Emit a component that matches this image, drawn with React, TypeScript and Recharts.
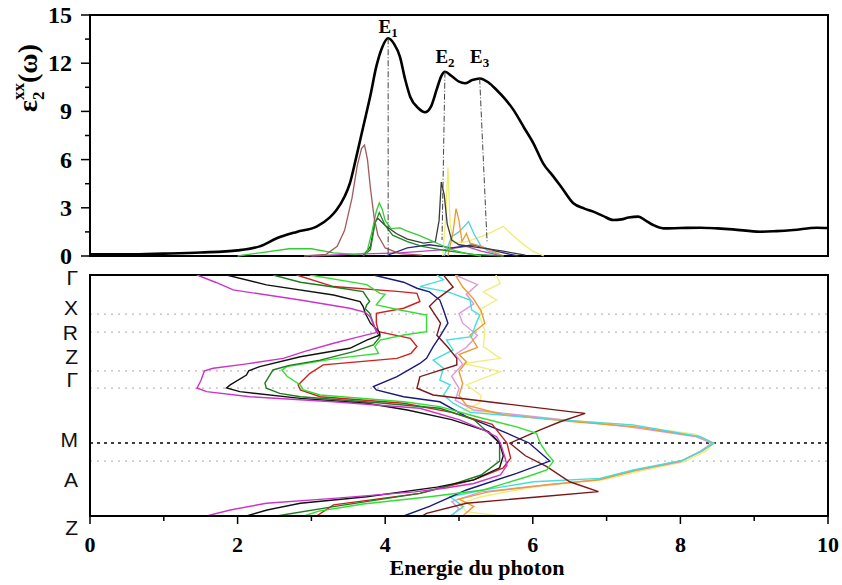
import React from 'react'
import { LineChart, Line, XAxis, YAxis, ReferenceLine, ReferenceArea, ReferenceDot, Label } from 'recharts'

const SERIF = '"Liberation Serif", "Times New Roman", serif'
const SANS = '"Liberation Sans", Arial, sans-serif'

// eps2 xx total, [energy (eV), value]
const eps2Total = [
    [0, 0.1], [0.5, 0.1], [1.0, 0.15], [1.5, 0.22], [2.0, 0.35], [2.3, 0.6], [2.53, 1.1], [2.8, 1.5],
    [3.07, 1.83], [3.25, 2.4], [3.34, 2.86], [3.45, 3.7], [3.52, 4.5], [3.6, 6.0], [3.7, 8.0], [3.8, 10.0],
    [3.88, 11.8], [3.96, 13.0], [4.04, 13.55], [4.12, 13.2], [4.2, 12.4], [4.27, 11.0], [4.34, 9.9],
    [4.45, 9.2], [4.54, 8.95], [4.62, 9.3], [4.7, 10.4], [4.76, 11.2], [4.81, 11.47], [4.9, 11.2],
    [5.0, 10.85], [5.08, 10.75], [5.18, 10.95], [5.28, 11.05], [5.4, 10.8], [5.51, 10.33], [5.62, 9.8],
    [5.74, 9.08], [5.88, 8.0], [6.01, 7.0], [6.14, 5.77], [6.28, 4.94], [6.4, 4.2], [6.55, 3.28],
    [6.7, 2.95], [6.82, 2.76], [6.95, 2.5], [7.09, 2.24], [7.2, 2.28], [7.3, 2.4], [7.43, 2.45],
    [7.53, 2.2], [7.63, 1.93], [7.77, 1.72], [8.0, 1.74], [8.27, 1.76], [8.5, 1.72], [8.71, 1.66],
    [9.08, 1.51], [9.3, 1.55], [9.53, 1.62], [9.85, 1.76], [10, 1.74],
]

// band-pair contributions to eps2
const pairBrown = [[2.9, 0], [3.2, 0.1], [3.35, 0.6], [3.45, 1.6], [3.55, 3.6], [3.62, 5.6], [3.68, 6.7], [3.72, 6.9], [3.76, 6.0], [3.8, 4.2], [3.85, 2.4], [3.9, 1.3], [4.0, 0.5], [4.2, 0.15], [4.5, 0.05]]
const pairGreen = [[2.0, 0], [2.3, 0.2], [2.7, 0.45], [3.0, 0.45], [3.3, 0.2], [3.6, 0.1], [3.75, 0.2], [3.82, 1.5], [3.88, 2.8], [3.92, 3.3], [3.96, 2.9], [4.0, 2.2], [4.08, 1.7], [4.2, 1.75], [4.3, 1.55], [4.45, 1.3], [4.6, 1.0], [4.75, 0.7], [4.9, 0.4], [5.1, 0.15], [5.3, 0]]
const pairDarkGreen = [[3.7, 0], [3.8, 0.4], [3.86, 2.0], [3.92, 2.7], [4.0, 1.9], [4.1, 1.3], [4.3, 0.9], [4.5, 0.6], [4.8, 0.35], [5.2, 0.1], [5.6, 0]]
const pairGray = [[3.7, 0], [3.8, 0.6], [3.86, 2.1], [3.9, 2.35], [4.0, 1.9], [4.15, 1.4], [4.3, 1.05], [4.52, 0.8], [4.68, 0.9], [4.73, 2.2], [4.76, 4.6], [4.8, 3.8], [4.84, 2.0], [4.9, 1.0], [5.0, 0.7], [5.3, 0.5], [5.6, 0.3], [5.9, 0.05]]
const pairYellow = [[4.78, 0], [4.82, 2.5], [4.85, 5.5], [4.88, 2.0], [4.92, 0.8], [5.1, 0.9], [5.3, 1.2], [5.45, 1.5], [5.6, 1.85], [5.7, 1.4], [5.85, 0.8], [6.0, 0.3], [6.15, 0]]
const pairOrange = [[4.85, 0], [4.92, 1.5], [4.96, 2.95], [5.0, 2.2], [5.04, 0.9], [5.1, 1.4], [5.15, 0.8], [5.3, 0.6], [5.45, 0.3], [5.6, 0]]
const pairCyan = [[4.8, 0], [4.9, 1.2], [5.0, 1.5], [5.13, 2.14], [5.2, 1.4], [5.3, 0.6], [5.4, 0.3], [5.6, 0]]
const pairMagenta = [[3.0, 0], [3.5, 0.1], [4.2, 0.2], [4.8, 0.4], [5.1, 0.6], [5.3, 0.3], [5.6, 0]]
const pairNavy = [[4.0, 0], [4.3, 0.5], [4.6, 0.7], [4.9, 0.5], [5.2, 0.7], [5.5, 0.3], [5.8, 0]]

// E1..E3 critical points: peak top and foot of the marker line
const peakNames = ['1', '2', '3']
const peakTopE = [4.04, 4.81, 5.28]
const peakTopV = [13.55, 11.47, 11.05]
const peakFootE = [4.04, 4.77, 5.38]
const peakFootV = [0, 1.0, 0.9]

// k path
const kPoints = [0, 0.162, 0.237, 0.398, 0.469, 0.697, 0.772, 1]
const kLabels = ['Γ', 'X', 'R', 'Z', 'Γ', 'M', 'A', 'Z']

// transition energies along the k path, [k, energy (eV)]
const bandMagenta = [[0, 1.45], [0.03, 1.7], [0.062, 1.94], [0.104, 2.85], [0.138, 3.52], [0.155, 3.73], [0.175, 3.8], [0.221, 3.86], [0.237, 3.9], [0.26, 3.6], [0.283, 3.3], [0.318, 2.9], [0.346, 2.62], [0.37, 2.1], [0.387, 1.67], [0.398, 1.55], [0.44, 1.5], [0.469, 1.45], [0.484, 1.58], [0.505, 2.17], [0.526, 3.3], [0.553, 4.47], [0.6, 5.0], [0.643, 5.33], [0.671, 5.51], [0.697, 5.56], [0.754, 5.62], [0.79, 5.65], [0.83, 5.56], [0.865, 5.2], [0.885, 4.8], [0.9, 4.4], [0.927, 3.3], [0.947, 2.39], [0.975, 1.9], [1, 1.58]]
const bandBlack = [[0, 1.85], [0.041, 2.39], [0.083, 3.3], [0.11, 3.66], [0.13, 3.7], [0.159, 3.73], [0.2, 3.8], [0.237, 3.92], [0.249, 3.93], [0.27, 3.75], [0.304, 3.52], [0.339, 2.85], [0.38, 2.3], [0.398, 2.15], [0.415, 2.12], [0.456, 1.9], [0.469, 1.85], [0.484, 2.03], [0.512, 2.85], [0.532, 3.75], [0.56, 4.3], [0.6, 4.9], [0.65, 5.4], [0.697, 5.55], [0.75, 5.6], [0.8, 5.55], [0.85, 5.2], [0.88, 4.7], [0.92, 3.75], [0.947, 2.85], [0.975, 2.4], [1, 2.12]]
const bandDarkGreen = [[0, 2.48], [0.03, 2.85], [0.05, 3.3], [0.069, 3.7], [0.11, 3.79], [0.124, 3.75], [0.14, 3.73], [0.159, 3.79], [0.235, 3.88], [0.256, 3.93], [0.29, 3.84], [0.318, 3.57], [0.353, 3.12], [0.375, 2.7], [0.394, 2.48], [0.449, 2.37], [0.47, 2.39], [0.491, 2.57], [0.505, 2.85], [0.53, 3.9], [0.553, 4.74], [0.6, 5.2], [0.697, 5.55], [0.772, 5.55], [0.83, 5.3], [0.87, 4.9], [0.906, 4.47], [0.961, 3.3], [1, 2.53]]
const bandGreen = [[0, 2.98], [0.04, 3.75], [0.076, 3.93], [0.08, 4.0], [0.104, 3.93], [0.124, 3.88], [0.145, 4.2], [0.166, 4.56], [0.235, 4.56], [0.249, 4.25], [0.27, 3.93], [0.297, 3.86], [0.325, 3.91], [0.346, 3.34], [0.38, 2.67], [0.394, 2.6], [0.42, 2.67], [0.456, 2.85], [0.477, 2.89], [0.498, 3.12], [0.526, 4.25], [0.546, 4.74], [0.588, 5.24], [0.63, 5.78], [0.657, 6.05], [0.698, 6.1], [0.74, 6.19], [0.772, 6.28], [0.809, 6.19], [0.837, 5.92], [0.892, 5.33], [0.92, 4.6], [0.95, 3.7], [0.98, 3.1], [1, 2.9]]
const bandRed = [[0, 2.8], [0.048, 3.3], [0.069, 4.2], [0.076, 4.43], [0.11, 4.47], [0.138, 4.25], [0.159, 3.88], [0.2, 3.88], [0.235, 3.91], [0.263, 4.34], [0.297, 4.43], [0.325, 4.35], [0.346, 4.16], [0.373, 3.16], [0.408, 2.98], [0.456, 2.82], [0.477, 2.85], [0.505, 3.12], [0.532, 4.25], [0.57, 4.9], [0.62, 5.45], [0.697, 5.65], [0.76, 5.7], [0.8, 5.6], [0.85, 5.2], [0.906, 4.47], [0.954, 3.3], [1, 3.07]]
const bandNavy = [[0, 3.84], [0.03, 4.25], [0.055, 4.43], [0.07, 4.6], [0.104, 4.74], [0.145, 4.79], [0.2, 4.85], [0.256, 4.74], [0.297, 4.65], [0.346, 4.56], [0.367, 4.47], [0.422, 4.16], [0.463, 3.84], [0.477, 3.88], [0.505, 4.25], [0.526, 4.74], [0.588, 5.1], [0.65, 5.6], [0.697, 5.95], [0.772, 6.23], [0.823, 5.78], [0.892, 5.1], [0.934, 4.79], [0.96, 4.6], [1, 4.25]]
const bandMaroon = [[0, 4.79], [0.05, 4.92], [0.1, 4.7], [0.13, 4.6], [0.2, 4.75], [0.25, 4.7], [0.3, 4.85], [0.346, 4.97], [0.373, 4.97], [0.422, 4.47], [0.47, 4.43], [0.498, 4.65], [0.532, 5.56], [0.567, 6.5], [0.574, 6.71], [0.609, 6.37], [0.643, 6.1], [0.698, 5.69], [0.75, 5.9], [0.795, 6.19], [0.858, 6.5], [0.899, 6.89], [0.92, 6.1], [0.947, 5.1], [0.989, 4.56], [1, 4.5]]
const bandCyan = [[0, 4.7], [0.02, 4.79], [0.048, 4.47], [0.07, 4.85], [0.104, 5.15], [0.145, 5.17], [0.166, 5.28], [0.21, 5.22], [0.256, 5.17], [0.27, 4.83], [0.311, 4.92], [0.353, 4.65], [0.387, 4.79], [0.436, 4.74], [0.456, 4.88], [0.498, 4.79], [0.532, 4.92], [0.57, 5.15], [0.6, 6.3], [0.622, 7.36], [0.671, 8.27], [0.698, 8.45], [0.733, 8.27], [0.768, 8.04], [0.809, 7.36], [0.844, 6.91], [0.858, 6.01], [0.892, 5.33], [0.92, 4.88], [0.961, 5.06], [1, 4.88]]
const bandOrange = [[0, 4.95], [0.05, 5.05], [0.1, 5.2], [0.15, 5.3], [0.2, 5.35], [0.25, 5.15], [0.3, 5.25], [0.33, 5.0], [0.36, 5.1], [0.4, 5.0], [0.45, 5.05], [0.5, 5.0], [0.54, 5.1], [0.58, 5.6], [0.61, 6.6], [0.63, 7.4], [0.67, 8.25], [0.698, 8.45], [0.73, 8.3], [0.772, 8.0], [0.81, 7.4], [0.85, 6.9], [0.87, 6.2], [0.9, 5.4], [0.93, 5.0], [0.96, 5.2], [1, 5.05]]
const bandPink = [[0, 4.95], [0.04, 5.25], [0.08, 5.1], [0.12, 5.2], [0.16, 5.0], [0.2, 5.05], [0.25, 5.25], [0.3, 5.1], [0.33, 4.95], [0.37, 5.05], [0.42, 4.9], [0.47, 5.0], [0.52, 4.95], [0.56, 5.2], [0.6, 6.4], [0.63, 7.3], [0.67, 8.2], [0.698, 8.42], [0.73, 8.28], [0.775, 8.0], [0.81, 7.4], [0.85, 6.85], [0.9, 5.3], [0.94, 4.9], [0.97, 5.0], [1, 4.9]]
const bandYellow = [[0, 5.5], [0.035, 5.56], [0.07, 5.33], [0.104, 5.51], [0.14, 5.3], [0.173, 5.28], [0.23, 5.35], [0.297, 5.33], [0.346, 5.56], [0.367, 5.06], [0.401, 5.56], [0.456, 5.1], [0.5, 5.3], [0.532, 5.28], [0.56, 5.06], [0.59, 6.0], [0.62, 7.2], [0.66, 8.2], [0.698, 8.45], [0.73, 8.35], [0.775, 8.05], [0.81, 7.5], [0.85, 6.95], [0.88, 6.0], [0.92, 5.3], [0.95, 5.0], [0.982, 5.1], [1, 5.56]]

const topTicks = [0, 1.5, 3, 4.5, 6, 7.5, 9, 10.5, 12, 13.5, 15]
const energyTicks = [0, 1, 2, 3, 4, 5, 6, 7, 8, 9, 10]
const kLabelShift = [2, -7, 0, -14, -9, -3, 18, 11]

const toSpectrum = (pts: number[][]) => pts.map(([e, v]) => ({ e, v }))
const toBand = (pts: number[][]) => pts.map(([k, e]) => ({ k, e }))

const pairs = [
    { pts: pairMagenta, color: '#c040c0' },
    { pts: pairNavy, color: '#2a2a8a' },
    { pts: pairYellow, color: '#eeee70' },
    { pts: pairCyan, color: '#55cfe0' },
    { pts: pairOrange, color: '#ee9930' },
    { pts: pairGray, color: '#3a3a3a' },
    { pts: pairDarkGreen, color: '#1e8a1e' },
    { pts: pairGreen, color: '#33cc33' },
    { pts: pairBrown, color: '#a05a5a' },
]

const bands = [
    { pts: bandYellow, color: '#f0ee80' },
    { pts: bandPink, color: '#dd99dd' },
    { pts: bandOrange, color: '#ee9933' },
    { pts: bandCyan, color: '#44dde0' },
    { pts: bandMaroon, color: '#7a1818' },
    { pts: bandNavy, color: '#1a1a7a' },
    { pts: bandRed, color: '#cc2222' },
    { pts: bandGreen, color: '#33dd33' },
    { pts: bandDarkGreen, color: '#1e7b1e' },
    { pts: bandBlack, color: '#111111' },
    { pts: bandMagenta, color: '#cc33cc' },
]

const TopTick = ({ x, y, payload }: any) => {
    const major = payload.value % 3 === 0
    return (
        <g>
            <line x1={x} x2={x - (major ? 9 : 5)} y1={y} y2={y} stroke="#000" strokeWidth={1.5} />
            {major && (
                <text x={x - 18} y={y} dy={8} textAnchor="end" fontFamily={SERIF} fontWeight="bold" fontSize={24} fill="#000">
                    {payload.value}
                </text>
            )}
        </g>
    )
}

const EnergyTick = ({ x, y, payload }: any) => {
    const major = payload.value % 2 === 0
    return (
        <g>
            <line x1={x} x2={x} y1={y} y2={y + (major ? 8 : 5)} stroke="#000" strokeWidth={1.5} />
            {major && (
                <text x={x} y={y + 36} textAnchor="middle" fontFamily={SERIF} fontWeight="bold" fontSize={22} fill="#000">
                    {payload.value}
                </text>
            )}
        </g>
    )
}

const KTick = ({ x, y, index }: any) => (
    <text x={x} y={y + kLabelShift[index]} dy={7.5} textAnchor="end" fontFamily={SANS} fontSize={21} fill="#111">
        {kLabels[index]}
    </text>
)

const Eps2Title = ({ viewBox }: any) => {
    const cx = viewBox.x + 37
    const cy = 78
    return (
        <text x={cx} y={cy} transform={`rotate(-90 ${cx} ${cy})`} textAnchor="middle" fontFamily={SERIF} fontWeight="bold" fontSize={28} fill="#000">
            <tspan>ε</tspan>
            <tspan fontSize={17} dy={7}>2</tspan>
            <tspan fontSize={17} dx={-8.5} dy={-20}>xx</tspan>
            <tspan dy={13}>(ω)</tspan>
        </text>
    )
}

const EnergyTitle = ({ viewBox }: any) => (
    <text x={viewBox.x + viewBox.width / 2 + 18} y={viewBox.y + 59} textAnchor="middle" fontFamily={SERIF} fontWeight="bold" fontSize={22} fill="#000">
        Energie du photon
    </text>
)

const peakLift = [5, 9, 15]

export default function App() {
    return (
        <div style={{ position: 'absolute', left: 0, top: 0, width: 842, height: 585, background: '#fff' }}>
            <div style={{ position: 'absolute', left: 0, top: 0 }}>
                <LineChart width={842} height={270} margin={{ top: 15, right: 14, bottom: 14, left: 0 }}>
                    <XAxis type="number" dataKey="e" domain={[0, 10]} hide allowDataOverflow />
                    <YAxis type="number" domain={[0, 15]} ticks={topTicks} width={90} tickSize={0} tickMargin={0}
                        tickLine={false} axisLine={{ stroke: '#000', strokeWidth: 2 }} tick={(p: any) => <TopTick {...p} />}
                        interval={0}>
                        <Label content={(p: any) => <Eps2Title {...p} />} />
                    </YAxis>
                    {pairs.map((c, i) => (
                        <Line key={i} data={toSpectrum(c.pts)} dataKey="v" type="linear" stroke={c.color}
                            strokeWidth={1.3} dot={false} activeDot={false} isAnimationActive={false} />
                    ))}
                    <Line data={toSpectrum(eps2Total)} dataKey="v" type="monotone" stroke="#000" strokeWidth={2.6}
                        dot={false} activeDot={false} isAnimationActive={false} />
                    {peakNames.map((n, i) => (
                        <ReferenceLine key={'l' + i} segment={[{ x: peakTopE[i], y: peakTopV[i] }, { x: peakFootE[i], y: peakFootV[i] }]}
                            stroke="#444" strokeWidth={1} strokeDasharray="6 2 1 2" />
                    ))}
                    {peakNames.map((n, i) => (
                        <ReferenceDot key={'d' + i} x={peakTopE[i]} y={peakTopV[i]} r={0}
                            shape={(p: any) => (
                                <text x={p.cx} y={p.cy - peakLift[i]} textAnchor="middle" fontFamily={SERIF} fontWeight="bold" fontSize={19} fill="#000">
                                    E<tspan fontSize={13} dy={4}>{n}</tspan>
                                </text>
                            )} />
                    ))}
                    <ReferenceArea x1={0} x2={10} y1={0} y2={15} fill="none" stroke="#000" strokeWidth={2} ifOverflow="visible" />
                </LineChart>
            </div>
            <div style={{ position: 'absolute', left: 0, top: 260 }}>
                <LineChart layout="vertical" width={842} height={325} margin={{ top: 15, right: 14, bottom: 0, left: 0 }}>
                    <XAxis type="number" domain={[0, 10]} ticks={energyTicks} height={69} tickSize={0} tickMargin={0}
                        tickLine={false} axisLine={{ stroke: '#000', strokeWidth: 2 }} tick={(p: any) => <EnergyTick {...p} />}
                        interval={0} allowDataOverflow>
                        <Label content={(p: any) => <EnergyTitle {...p} />} />
                    </XAxis>
                    <YAxis type="number" dataKey="k" domain={[0, 1]} ticks={kPoints} width={90} tickSize={0}
                        tickMargin={12} tickLine={false} axisLine={{ stroke: '#000', strokeWidth: 2 }} interval={0}
                        tick={(p: any) => <KTick {...p} />} allowDataOverflow />
                    {kPoints.slice(1, -1).map((k, i) => (
                        <ReferenceLine key={i} y={k} stroke={kLabels[i + 1] === 'M' ? '#000' : '#bbb'}
                            strokeWidth={kLabels[i + 1] === 'M' ? 1.5 : 1.2} strokeDasharray={kLabels[i + 1] === 'M' ? '3 4' : '2 5'} />
                    ))}
                    {bands.map((b, i) => (
                        <Line key={i} data={toBand(b.pts)} dataKey="e" type="linear" stroke={b.color} strokeWidth={1.4}
                            dot={false} activeDot={false} isAnimationActive={false} />
                    ))}
                    <ReferenceArea x1={0} x2={10} y1={0} y2={1} fill="none" stroke="#000" strokeWidth={2} ifOverflow="visible" />
                </LineChart>
            </div>
        </div>
    )
}
